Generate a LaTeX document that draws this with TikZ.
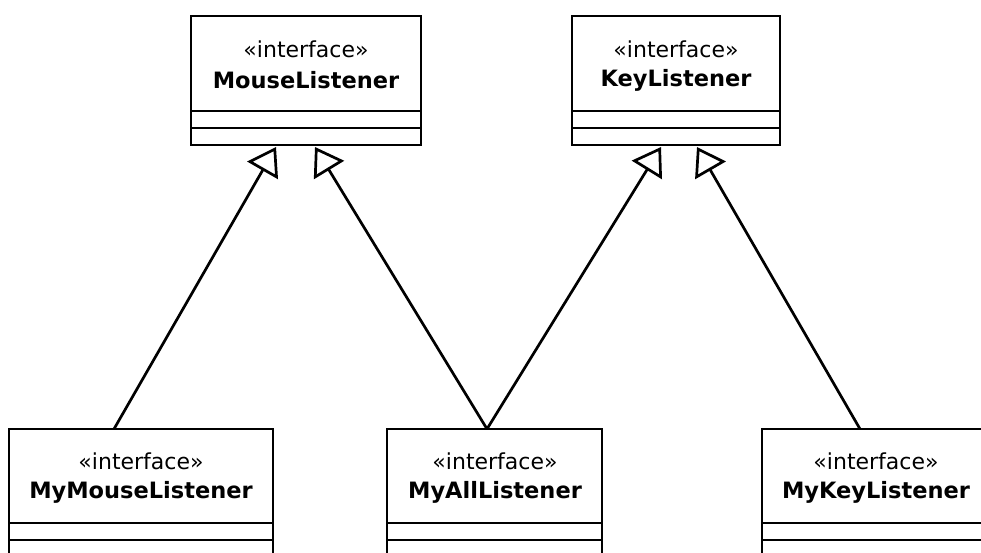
\documentclass[tikz,border=0pt]{standalone}
\usepackage{fontspec}
\setmainfont{DejaVu Sans}
\usetikzlibrary{arrows.meta}
\tikzset{
  box/.style={draw, line width=2.7pt, rectangle, inner sep=0pt},
  stereo/.style={inner sep=0pt, font=\fontsize{22}{26}\selectfont},
  cname/.style={inner sep=0pt, font=\fontsize{22.5}{26}\selectfont\bfseries},
  div/.style={line width=2.7pt},
  real/.style={line width=2.7pt, -{Triangle[open, length=27pt, width=35pt, line width=2.7pt]}}
}
\begin{document}
\begin{tikzpicture}[x=1pt, y=-1pt]
\useasboundingbox (0,0) rectangle (981,552);
\clip (0,0) rectangle (981,552);
% top boxes
\draw[box] (191,16) rectangle (421,145);
\draw[div] (191,111) -- (421,111);
\draw[div] (191,128) -- (421,128);
\node[stereo] (mls) at (306,49) {«interface»};
\node[cname] (mln) at (306,80) {MouseListener};
\coordinate (mlL) at (276,147);
\coordinate (mlR) at (315,147);

\draw[box] (572,16) rectangle (780,145);
\draw[div] (572,111) -- (780,111);
\draw[div] (572,128) -- (780,128);
\node[stereo] (kls) at (676,49) {«interface»};
\node[cname] (kln) at (676,80) {KeyListener};
\coordinate (klL) at (661,147);
\coordinate (klR) at (697,147);

% bottom boxes
\draw[box] (9,429) rectangle (273,570);
\draw[div] (9,523) -- (273,523);
\draw[div] (9,540) -- (273,540);
\node[stereo] (mmls) at (141,461) {«interface»};
\node[cname] (mmln) at (141,492) {MyMouseListener};
\coordinate (mmlT) at (114,429);

\draw[box] (387,429) rectangle (602,570);
\draw[div] (387,523) -- (602,523);
\draw[div] (387,540) -- (602,540);
\node[stereo] (mals) at (495,461) {«interface»};
\node[cname] (maln) at (495,492) {MyAllListener};
\coordinate (malT) at (487,429);

\draw[box] (762,429) rectangle (995,570);
\draw[div] (762,523) -- (995,523);
\draw[div] (762,540) -- (995,540);
\node[stereo] (mkls) at (876,461) {«interface»};
\node[cname] (mkln) at (876,492) {MyKeyListener};
\coordinate (mklT) at (860,429);

% realizations
\draw[real] (mmlT) -- (mlL);
\draw[real] (malT) -- (mlR);
\draw[real] (malT) -- (klL);
\draw[real] (mklT) -- (klR);
\end{tikzpicture}
\end{document}
